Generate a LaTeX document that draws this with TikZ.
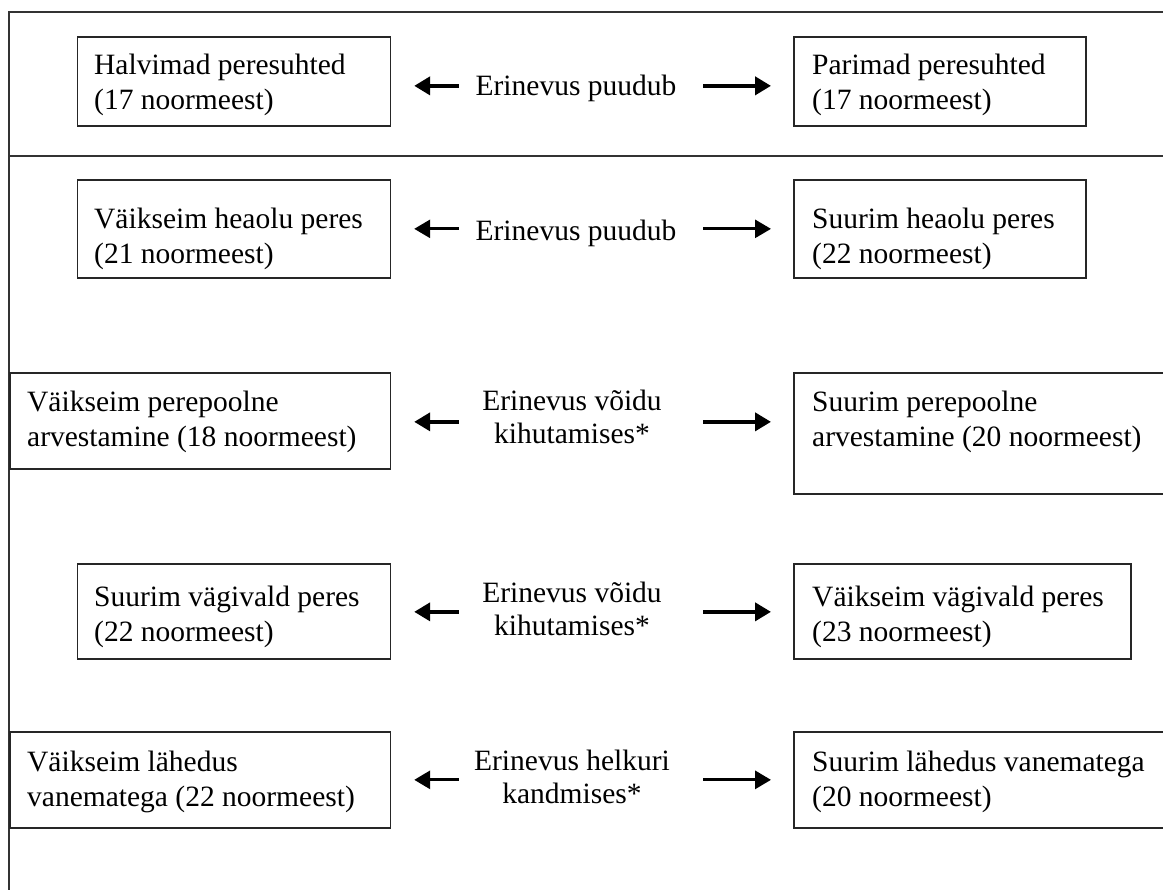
\documentclass[tikz,border=0pt]{standalone}
\usepackage{fontspec}
\setmainfont{Liberation Serif}
\usetikzlibrary{arrows.meta}
\tikzset{
  boxnode/.style={draw=black!85, line width=1.7pt, rectangle, inner sep=0pt, anchor=north west},
  boxtxt/.style={anchor=north west, inner sep=0pt, align=left, font=\fontsize{29.5}{35}\selectfont},
  midtxt/.style={anchor=north, inner sep=0pt, align=center, font=\fontsize{29.5}{33}\selectfont},
  framel/.style={line width=1.6pt, black!80},
  arr/.style={line width=3.8pt, -{Triangle[length=16pt,width=18pt]}},
}
\newcommand{\st}{\rule{0pt}{24pt}}
\begin{document}
\begin{tikzpicture}[x=1pt,y=-1pt]
\useasboundingbox (0,0) rectangle (1163,890);
% frame
\coordinate (ftl) at (9,12);
\coordinate (ftr) at (1180,12);
\coordinate (fml) at (9,156);
\coordinate (fmr) at (1180,156);
\coordinate (fbl) at (9,900);
\draw[framel] (ftr) -- (ftl) -- (fbl);
\draw[framel] (fml) -- (fmr);
% boxes
\node[boxnode, minimum width=313pt, minimum height=89pt] (L1) at (76.5,36) {};
\node[boxnode, minimum width=292pt, minimum height=89pt] (R1) at (793,36) {};
\node[boxnode, minimum width=313pt, minimum height=98pt] (L2) at (76.5,179) {};
\node[boxnode, minimum width=292pt, minimum height=98pt] (R2) at (793,179) {};
\node[boxnode, minimum width=380.5pt, minimum height=96pt] (L3) at (9,372) {};
\node[boxnode, minimum width=400pt, minimum height=121pt] (R3) at (793,372) {};
\node[boxnode, minimum width=313pt, minimum height=95pt] (L4) at (76.5,563) {};
\node[boxnode, minimum width=337pt, minimum height=95pt] (R4) at (793,563) {};
\node[boxnode, minimum width=380.5pt, minimum height=96pt] (L5) at (9,731) {};
\node[boxnode, minimum width=400pt, minimum height=96pt] (R5) at (793,731) {};
% box texts
\node[boxtxt] (tL1) at (94,50) {\st Halvimad peresuhted\\(17 noormeest)};
\node[boxtxt] (tR1) at (812,50) {\st Parimad peresuhted\\(17 noormeest)};
\node[boxtxt] (tL2) at (94,204) {\st Väikseim heaolu peres\\(21 noormeest)};
\node[boxtxt] (tR2) at (812,204) {\st Suurim heaolu peres\\(22 noormeest)};
\node[boxtxt] (tL3) at (27,387) {\st Väikseim perepoolne\\arvestamine (18 noormeest)};
\node[boxtxt] (tR3) at (812,387) {\st Suurim perepoolne\\arvestamine (20 noormeest)};
\node[boxtxt] (tL4) at (94,582) {\st Suurim vägivald peres\\(22 noormeest)};
\node[boxtxt] (tR4) at (812,582) {\st Väikseim vägivald peres\\(23 noormeest)};
\node[boxtxt] (tL5) at (27,747) {\st Väikseim lähedus\\vanematega (22 noormeest)};
\node[boxtxt] (tR5) at (812,747) {\st Suurim lähedus vanematega\\(20 noormeest)};
% middle texts
\node[midtxt] (m1) at (576,71) {\st Erinevus puudub};
\node[midtxt] (m2) at (576,216) {\st Erinevus puudub};
\node[midtxt] (m3) at (572,386) {\st Erinevus võidu\\kihutamises*};
\node[midtxt] (m4) at (572,578) {\st Erinevus võidu\\kihutamises*};
\node[midtxt] (m5) at (572,746) {\st Erinevus helkuri\\kandmises*};
% arrows
\draw[arr, line width=4.6pt] ([shift={(67.7,4.5)}]L1.east) -- ([shift={(23,4.5)}]L1.east);
\draw[arr, line width=4.6pt] ([shift={(-90,4.5)}]R1.west) -- ([shift={(-22,4.5)}]R1.west);
\draw[arr, line width=2.8pt] ([shift={(67.7,0)}]L2.east) -- ([shift={(23,0)}]L2.east);
\draw[arr, line width=2.8pt] ([shift={(-90,0)}]R2.west) -- ([shift={(-22,0)}]R2.west);
\draw[arr] ([shift={(67.7,1)}]L3.east) -- ([shift={(23,1)}]L3.east);
\draw[arr] ([shift={(-90,-11.5)}]R3.west) -- ([shift={(-22,-11.5)}]R3.west);
\draw[arr] ([shift={(67.7,0.5)}]L4.east) -- ([shift={(23,0.5)}]L4.east);
\draw[arr] ([shift={(-90,0.5)}]R4.west) -- ([shift={(-22,0.5)}]R4.west);
\draw[arr, line width=3.2pt] ([shift={(67.7,0)}]L5.east) -- ([shift={(23,0)}]L5.east);
\draw[arr, line width=3.2pt] ([shift={(-90,0)}]R5.west) -- ([shift={(-22,0)}]R5.west);
\end{tikzpicture}
\end{document}
